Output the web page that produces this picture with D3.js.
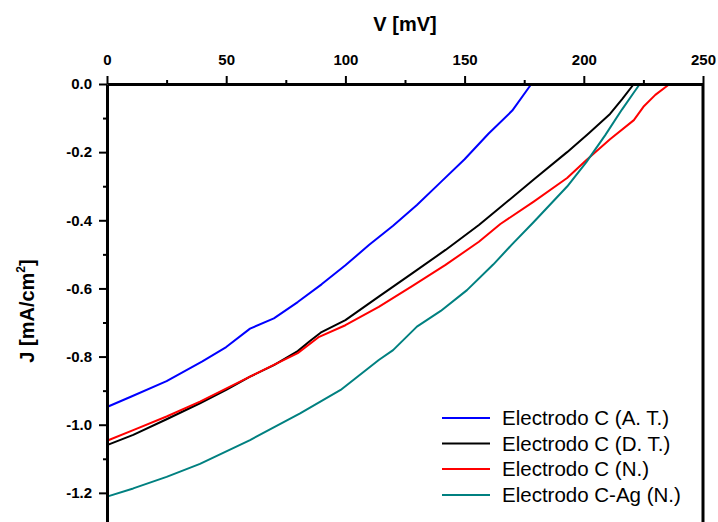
<!DOCTYPE html>
<html>
<head>
<meta charset="utf-8">
<script src="https://cdn.jsdelivr.net/npm/d3@7"></script>
<style>
  html, body { margin: 0; padding: 0; background: #fff; }
  svg { display: block; font-family: "Liberation Sans", Arial, sans-serif; }
</style>
</head>
<body>
<svg id="chart" width="718" height="522"></svg>
<script>
// ---- data ----
const seriesNames = ["Electrodo C (A. T.)", "Electrodo C (D. T.)", "Electrodo C (N.)", "Electrodo C-Ag (N.)"];
const seriesColors = ["#0000ff", "#000000", "#ff0000", "#008080"];

const vAT = [0, 10, 25, 40, 50, 60, 70, 80, 90, 100, 110, 120, 130, 140, 150, 160, 170, 178];
const jAT = [-0.948, -0.918, -0.872, -0.814, -0.772, -0.718, -0.688, -0.640, -0.588, -0.532, -0.472, -0.416, -0.355, -0.288, -0.221, -0.146, -0.078, 0];

const vDT = [0, 11, 25, 39, 50, 60, 70, 80, 85, 90, 100, 114, 128, 142, 156, 165, 179, 193, 202, 211, 216, 221];
const jDT = [-1.060, -1.030, -0.984, -0.937, -0.898, -0.859, -0.825, -0.784, -0.755, -0.728, -0.693, -0.624, -0.556, -0.487, -0.414, -0.362, -0.280, -0.200, -0.145, -0.088, -0.045, 0];

const vN = [0, 11, 25, 39, 60, 80, 89, 100, 114, 128, 142, 156, 165, 179, 193, 201, 211, 221, 225, 230, 236];
const jN = [-1.047, -1.016, -0.976, -0.932, -0.859, -0.790, -0.742, -0.708, -0.654, -0.593, -0.531, -0.463, -0.411, -0.345, -0.276, -0.224, -0.162, -0.106, -0.067, -0.032, 0];

const vAg = [0, 11, 25, 39, 60, 81, 98, 114, 120, 130, 140, 151, 162, 170, 179, 193, 201, 209, 216, 221, 223.5];
const jAg = [-1.211, -1.187, -1.153, -1.115, -1.045, -0.967, -0.898, -0.810, -0.781, -0.712, -0.666, -0.605, -0.530, -0.470, -0.405, -0.301, -0.230, -0.150, -0.075, -0.025, 0];

const xTicks = [0, 50, 100, 150, 200, 250];
const xMinorTicks = [25, 75, 125, 175, 225];
const yTicks = [0, -0.2, -0.4, -0.6, -0.8, -1.0, -1.2];
const yTickLabels = ["0.0", "-0.2", "-0.4", "-0.6", "-0.8", "-1.0", "-1.2"];
const yMinorTicks = [-0.1, -0.3, -0.5, -0.7, -0.9, -1.1, -1.3];

const seriesV = [vAT, vDT, vN, vAg];
const seriesJ = [jAT, jDT, jN, jAg];

// ---- layout ----
const svg = d3.select("#chart");
const mLeft = 107, mTop = 84, mRight = 703, mBottom = 561;

const x = d3.scaleLinear().domain([0, 250]).range([mLeft, mRight]);
const y = d3.scaleLinear().domain([0, -1.4]).range([mTop, mBottom]);

// curves
const line = d3.line().x(d => x(d[0])).y(d => y(d[1]));
seriesV.forEach((vs, i) => {
  const pts = vs.map((v, k) => [v, seriesJ[i][k]]);
  svg.append("path")
    .attr("d", line(pts))
    .attr("fill", "none")
    .attr("stroke", seriesColors[i])
    .attr("stroke-width", 2)
    .attr("stroke-linejoin", "round");
});

// right frame line
svg.append("line")
  .attr("x1", mRight).attr("x2", mRight)
  .attr("y1", mTop).attr("y2", mBottom)
  .attr("stroke", "#000").attr("stroke-width", 3);

function styleAxis(g) {
  g.select(".domain").attr("stroke", "#000").attr("stroke-width", 3);
  g.selectAll(".tick line").attr("stroke", "#000").attr("stroke-width", 2);
  g.selectAll(".tick text").attr("fill", "#000")
    .attr("font-family", "'Liberation Sans', Arial, sans-serif")
    .attr("font-weight", "bold").attr("font-size", 15);
}

// top axis (minor first)
svg.append("g").attr("transform", `translate(0,${mTop})`)
  .call(d3.axisTop(x).tickValues(xMinorTicks).tickSize(4).tickSizeOuter(0).tickFormat(""))
  .call(g => { styleAxis(g); g.select(".domain").remove(); });
svg.append("g").attr("transform", `translate(0,${mTop})`)
  .call(d3.axisTop(x).tickValues(xTicks).tickSize(8).tickSizeOuter(0).tickPadding(11).tickFormat(d3.format("d")))
  .call(styleAxis);

// left axis
svg.append("g").attr("transform", `translate(${mLeft},0)`)
  .call(d3.axisLeft(y).tickValues(yMinorTicks).tickSize(4).tickSizeOuter(0).tickFormat(""))
  .call(g => { styleAxis(g); g.select(".domain").remove(); });
svg.append("g").attr("transform", `translate(${mLeft},0)`)
  .call(d3.axisLeft(y).tickValues(yTicks).tickSize(8).tickSizeOuter(0).tickPadding(7)
        .tickFormat((d, i) => yTickLabels[i]))
  .call(styleAxis);

// axis titles
svg.append("text")
  .attr("x", 405).attr("y", 31)
  .attr("text-anchor", "middle")
  .attr("font-weight", "bold").attr("font-size", 20)
  .text("V [mV]");

const yt = svg.append("text")
  .attr("transform", "translate(34,311) rotate(-90)")
  .attr("text-anchor", "middle")
  .attr("font-weight", "bold").attr("font-size", 20);
yt.append("tspan").text("J [mA/cm");
yt.append("tspan").attr("font-size", 12).attr("dy", -9).text("2");
yt.append("tspan").attr("dy", 9).text("]");

// legend
const legRows = [418, 443.5, 469, 495];
seriesNames.forEach((name, i) => {
  svg.append("line")
    .attr("x1", 442).attr("x2", 490)
    .attr("y1", legRows[i]).attr("y2", legRows[i])
    .attr("stroke", seriesColors[i]).attr("stroke-width", 2);
  svg.append("text")
    .attr("x", 502).attr("y", legRows[i]).attr("dy", "0.35em")
    .attr("font-size", 20.5).attr("fill", "#000")
    .text(name);
});
</script>
</body>
</html>
